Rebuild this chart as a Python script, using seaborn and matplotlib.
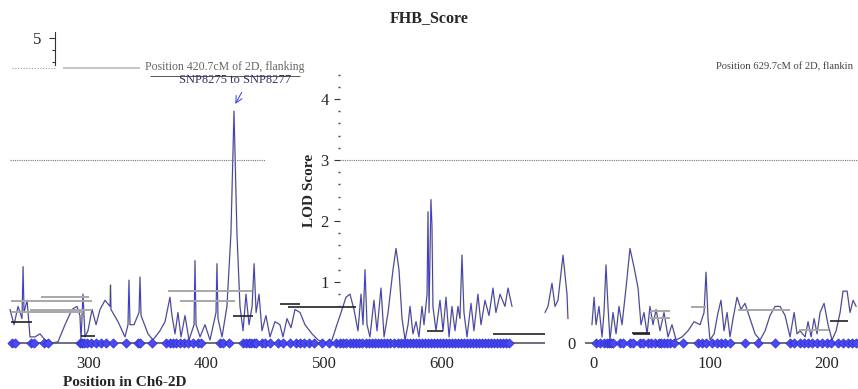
import numpy as np
import pandas as pd
import matplotlib
matplotlib.use("Agg")
import matplotlib.pyplot as plt
import seaborn as sns

# === Data ===
# left panel: position in Ch6-2D (cM) and LOD
left_pos = [232.8, 236.2, 239.6, 243.0, 243.9, 244.7, 247.3, 249.8, 254.0, 258.3, 262.6, 268.5,
            273.6, 279.6, 285.5, 289.8, 292.3, 293.2, 294.9, 296.6, 299.1, 302.6, 306.0, 309.4,
            313.6, 317.9, 318.3, 318.7, 324.7, 330.6, 333.2, 334.0, 334.9, 338.3, 342.6, 343.4,
            344.3, 350.2, 354.5, 360.4, 364.7, 368.9, 370.6, 373.2, 375.7, 378.3, 381.7, 385.1,
            389.4, 390.2, 391.1, 394.5, 398.7, 403.0, 408.1, 408.9, 409.8, 413.2, 417.4, 420.8,
            423.4, 425.9, 428.5, 431.1, 433.6, 436.2, 438.8, 440.5, 442.2, 444.7, 447.2, 450.6,
            454.0, 458.3, 462.5, 465.1, 468.5, 471.9, 475.3, 479.6, 483.8, 489.8, 494.9, 500.8,
            506.8, 511.0, 514.5, 518.7, 522.1, 525.5, 528.9, 531.5, 533.2, 534.9, 536.6, 539.1,
            542.5, 545.1, 548.5, 551.1, 554.5, 558.7, 561.3, 563.8, 566.4, 569.0, 571.5, 573.2,
            575.7, 578.3, 580.8, 583.4, 585.1, 587.7, 588.5, 589.4, 591.0, 591.9, 592.7, 595.3,
            598.7, 601.3, 603.8, 606.4, 608.9, 611.5, 614.0, 615.7, 617.4, 619.1, 621.7, 625.1,
            627.6, 631.0, 633.6, 637.0, 640.4, 643.8, 646.3, 649.8, 654.0, 656.6, 660.0]
left_lod = [0.55, 0.30, 0.60, 0.40, 1.25, 0.50, 0.70, 0.10, 0.10, 0.15, 0.05, 0.00,
            0.02, 0.30, 0.55, 0.60, 0.45, 0.05, 0.80, 0.10, 0.20, 0.55, 0.30, 0.55,
            0.70, 0.60, 0.95, 0.55, 0.35, 0.10, 0.30, 1.03, 0.30, 0.30, 0.50, 1.08,
            0.45, 0.15, 0.05, 0.20, 0.35, 0.75, 0.45, 0.15, 0.50, 0.10, 0.45, 0.05,
            0.30, 1.35, 0.30, 0.10, 0.30, 0.05, 0.50, 1.30, 0.40, 0.10, 0.60, 1.80,
            3.80, 1.80, 0.60, 0.20, 0.80, 0.30, 0.60, 1.30, 0.50, 0.80, 0.20, 0.45,
            0.10, 0.35, 0.30, 0.10, 0.40, 0.25, 0.55, 0.50, 0.30, 0.15, 0.05, 0.00,
            0.05, 0.30, 0.50, 0.75, 0.80, 0.55, 0.20, 0.80, 0.30, 1.20, 0.30, 0.10,
            0.70, 0.20, 0.90, 0.10, 0.50, 1.20, 1.55, 1.20, 0.40, 0.05, 0.30, 0.60,
            0.15, 0.35, 0.10, 0.60, 0.30, 0.80, 2.15, 0.50, 2.35, 1.90, 0.60, 0.20,
            0.70, 0.20, 0.75, 0.10, 0.60, 0.20, 0.60, 0.40, 1.44, 0.50, 0.10, 0.65,
            0.20, 0.80, 0.30, 0.70, 0.45, 0.90, 0.50, 0.80, 0.60, 0.90, 0.60]
tail_pos = [688.1, 690.6, 694.0, 696.6, 699.1, 703.4, 706.8, 707.6]
tail_lod = [0.50, 0.60, 0.98, 0.60, 0.70, 1.44, 0.80, 0.40]

# right panel: second linkage group (cM) and LOD
right_pos = [-0.9, 0.9, 2.6, 5.1, 7.7, 9.4, 11.1, 12.8, 14.5, 17.1, 19.7, 22.2, 24.8, 28.2, 31.6,
             35.0, 38.5, 41.0, 43.6, 46.2, 48.7, 51.3, 53.9, 57.3, 60.7, 64.1, 67.5, 71.0, 76.1,
             81.2, 86.4, 91.5, 94.9, 96.6, 98.3, 100.0, 103.5, 106.9, 109.4, 112.0, 114.6, 117.1,
             119.7, 123.1, 126.5, 129.9, 134.2, 138.5, 142.8, 147.1, 151.3, 155.6, 159.9, 164.2,
             168.4, 171.9, 174.4, 177.0, 181.3, 183.8, 186.4, 189.0, 191.5, 194.1, 197.5, 200.9,
             204.3, 207.8, 211.2, 213.7, 217.2, 219.7, 222.3, 224.9]
right_lod = [0.30, 0.75, 0.30, 0.60, 0.10, 0.50, 1.28, 0.60, 0.05, 0.50, 0.15, 0.60, 0.30, 0.90, 1.55,
             1.25, 0.90, 0.30, 0.50, 0.15, 0.60, 0.30, 0.55, 0.20, 0.50, 0.10, 0.30, 0.05, 0.10,
             0.20, 0.35, 0.30, 0.50, 1.16, 0.40, 0.05, 0.15, 0.50, 0.70, 0.20, 0.50, 0.10,
             0.40, 0.75, 0.55, 0.65, 0.40, 0.15, 0.05, 0.20, 0.45, 0.60, 0.60, 0.45,
             0.10, 0.50, 0.15, 0.20, 0.10, 0.35, 0.10, 0.40, 0.15, 0.50, 0.65, 0.30,
             0.05, 0.20, 0.50, 0.85, 0.85, 0.50, 0.70, 0.60]

# marker positions on the baseline
left_markers = [234.5, 237.0, 250.6, 253.2, 261.7, 265.1, 292.3, 294.0, 295.7, 298.3, 301.7, 306.0,
                310.2, 314.5, 320.4, 331.5, 341.7, 343.4, 353.6, 365.5, 368.9, 371.5, 374.0, 377.4,
                380.8, 384.2, 388.5, 392.8, 395.3, 411.5, 414.0, 419.1, 431.1, 433.6, 436.2, 437.9,
                440.5, 442.2, 447.2, 449.8, 454.0, 460.8, 465.1, 471.1, 476.2, 479.6, 483.0, 487.2,
                491.5, 498.3, 504.2, 510.2, 513.6, 516.2, 518.7, 522.1, 524.7, 527.2, 529.8, 532.3,
                535.7, 538.3, 540.8, 543.4, 546.0, 548.5, 551.1, 553.6, 556.2, 559.6, 563.0, 565.5,
                568.1, 570.6, 573.2, 575.7, 578.3, 580.8, 583.4, 585.9, 588.5, 591.0, 593.6, 596.1,
                598.7, 601.3, 603.8, 606.4, 608.9, 611.5, 614.0, 616.6, 619.1, 621.7, 624.2, 626.8,
                629.3, 631.9, 634.4, 637.0, 639.5, 642.1, 644.7, 647.2, 649.8, 652.3, 654.9, 657.4]
right_markers = [2.6, 6.0, 9.4, 12.0, 13.7, 15.4, 17.1, 23.1, 25.7, 31.6, 34.2, 40.2, 42.8, 47.0,
                 49.6, 53.0, 56.4, 58.1, 60.7, 63.3, 65.8, 69.3, 77.0, 89.8, 93.2, 96.6, 101.7,
                 106.0, 109.4, 112.9, 117.1, 130.0, 141.1, 155.6, 168.4, 171.9, 177.0, 180.4,
                 183.8, 187.2, 191.5, 195.8, 200.1, 203.5, 209.5, 213.7, 218.0, 221.4, 224.9]

# support-interval bars (start, end, LOD level)
left_dark_bars = [(233.6, 251.5, 0.34), (422.5, 439.5, 0.44), (462.5, 479.6, 0.64),
                  (469.5, 527.1, 0.59), (643.8, 688.1, 0.15), (587.7, 601.3, 0.20), (293.0, 305.0, 0.11)]
left_gray_bars = [(233.6, 302.6, 0.69), (249.8, 302.6, 0.54), (377.4, 424.2, 0.69),
                  (367.2, 438.7, 0.85), (259.0, 300.0, 0.75), (233.6, 295.0, 0.51)]
right_dark_bars = [(33.3, 48.7, 0.16), (202.6, 218.0, 0.36), (34.2, 48.7, 0.15)]
right_gray_bars = [(48.7, 65.8, 0.52), (48.7, 65.8, 0.41), (83.8, 96.6, 0.59),
                   (124.0, 168.4, 0.54), (176.1, 201.7, 0.21)]

threshold = 3.0

# === Figure ===
sns.set_theme(style="white")
plt.rcParams['font.family'] = ['Liberation Serif', 'DejaVu Serif']

W, H = 858, 389
fig = plt.figure(figsize=(W / 100, H / 100), dpi=100)

def fx(px):
    return px / W

def fy(py):
    return 1 - py / H

ylo, yhi = (343 - 350) / 61, (343 - 30) / 61
axL = fig.add_axes([0, fy(350), fx(575), (350 - 30) / H])
axR = fig.add_axes([fx(585), fy(350), fx(858 - 585), (350 - 30) / H])
axM = fig.add_axes([fx(340), fy(350), fx(858 - 340), (350 - 30) / H])
for a in (axL, axR, axM):
    a.set_ylim(ylo, yhi)
    a.patch.set_alpha(0)
    for s in a.spines.values():
        s.set_visible(False)
axL.set_xlim(224.26, 713.6)
axR.set_xlim(-6.84, 226.5)
axM.set_xlim(0, 1)
axM.set_zorder(0)

# curves
segL = pd.DataFrame({"pos": left_pos + tail_pos, "lod": left_lod + tail_lod,
                     "seg": [0] * len(left_pos) + [1] * len(tail_pos)})
segR = pd.DataFrame({"pos": right_pos, "lod": right_lod, "seg": 0})
for ax, df in ((axL, segL), (axR, segR)):
    sns.lineplot(data=df, x="pos", y="lod", units="seg", estimator=None, sort=False,
                 color="#ecec70", lw=1.3, ax=ax, legend=False)
    sns.lineplot(data=df, x="pos", y="lod", units="seg", estimator=None, sort=False,
                 color="#3838e6", lw=0.75, ax=ax, legend=False)

# interval bars
for ax, dark, gray in ((axL, left_dark_bars, left_gray_bars), (axR, right_dark_bars, right_gray_bars)):
    for x0, x1, y in gray:
        ax.hlines(y, x0, x1, color="#a8a8a8", lw=1.4)
    for x0, x1, y in dark:
        ax.hlines(y, x0, x1, color="#222222", lw=1.2)

# baselines and markers
axL.hlines(0, 232.8, 688.1, color="#555566", lw=1.2)
axR.hlines(0, -6.8, 226.5, color="#555566", lw=1.2)
sns.scatterplot(x=left_markers, y=[0] * len(left_markers), marker="D", s=22, color="#4a4af0",
                edgecolor="#2a2ad0", linewidth=0.5, ax=axL, clip_on=False, zorder=5)
sns.scatterplot(x=right_markers, y=[0] * len(right_markers), marker="D", s=22, color="#4a4af0",
                edgecolor="#2a2ad0", linewidth=0.5, ax=axR, clip_on=False, zorder=5)

# LOD threshold
axL.hlines(threshold, 232.8, 449.8, color="#777777", lw=0.8, ls=(0, (1, 1)))
axM.axhline(threshold, color="#777777", lw=0.8, ls=(0, (1, 1)))

# left "5" bracket axis
axL.spines["left"].set_visible(True)
axL.spines["left"].set_position(("data", 271.1))
axL.spines["left"].set_bounds(4.55, 5.1)
axL.spines["left"].set_color("#333333")
axL.spines["left"].set_linewidth(0.8)
axL.set_yticks([5])
axL.set_yticks([4.6, 4.8], minor=True)
axL.tick_params(axis="y", which="both", left=True, length=4, width=0.8, labelsize=12, pad=6, color="#333333")
axL.tick_params(axis="y", which="minor", length=2)

# middle LOD axis
axM.set_yticks([1, 2, 3, 4])
axM.set_yticks([0.6, 0.8, 1.2, 1.4, 1.6, 1.8, 2.2, 2.4, 2.6, 2.8, 3.2, 3.4, 3.6, 3.8, 4.2, 4.4], minor=True)
axM.tick_params(axis="y", which="major", left=True, length=4, width=0.8, labelsize=12, pad=4, color="#333333")
axM.tick_params(axis="y", which="minor", left=True, length=1.5, width=1.0, color="#444444")
axM.set_xticks([])
axM.set_ylabel("LOD Score", fontsize=11, fontweight="bold", labelpad=3)

# right panel y "0"
axR.set_yticks([0])
axR.tick_params(axis="y", left=False, labelsize=12, pad=1)

# x ticks
axL.set_xticks([300, 400, 500, 600])
axR.set_xticks([0, 100, 200])
for a in (axL, axR):
    a.tick_params(axis="x", bottom=False, labelsize=12, pad=-2)
    a.set_xlabel("")
    a.set_ylabel("")

# decorative top lines
axL.hlines(4.51, 234.5, 271.1, color="#999999", lw=0.8, ls=(0, (1, 1.5)))
axL.hlines(4.51, 277.9, 343.4, color="#bbbbbb", lw=1.2)
axL.hlines(4.38, 351.9, 479.6, color="#555555", lw=0.7)

# annotation of the peak
fig.text(fx(225), fy(67), "Position 420.7cM of 2D, flanking", ha="center", va="center",
         fontsize=8.5, color="#666666")
fig.text(fx(235), fy(80), "SNP8275 to SNP8277", ha="center", va="center", fontsize=9, color="#333366")
axL.annotate("", xy=(423.4, 3.88), xytext=(431.1, 4.15),
             arrowprops=dict(arrowstyle="->", color="#3a3ae0", lw=0.7))
fig.text(fx(716), fy(67), "Position 629.7cM of 2D, flankin", ha="left", va="center",
         fontsize=7.6, color="#444444")

fig.text(0.5, fy(18), "FHB_Score", ha="center", va="center", fontsize=11.5, fontweight="bold")
fig.text(fx(125), fy(382), "Position in Ch6-2D", ha="center", va="center", fontsize=11, fontweight="bold")

fig.savefig("out.png", dpi=100)
